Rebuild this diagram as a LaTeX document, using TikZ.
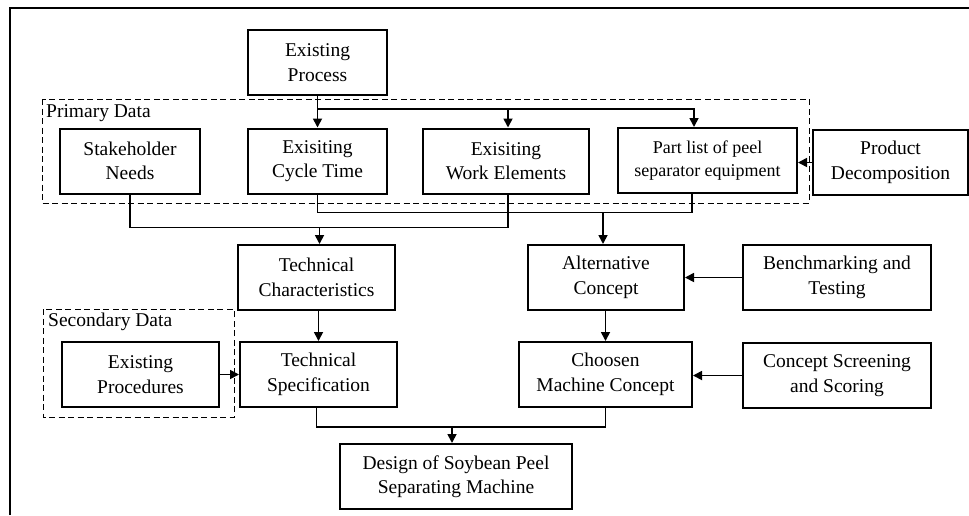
\documentclass[tikz,border=0pt]{standalone}
\usepackage{fontspec}
\setmainfont{Liberation Serif}
\usetikzlibrary{arrows.meta,calc}
\begin{document}
\begin{tikzpicture}[x=1pt,y=-1pt,
  box/.style={draw,line width=2pt,inner sep=0pt,minimum height=65pt,align=center,font=\fontsize{19.5}{24.5}\selectfont},
  conn/.style={line width=1.7pt},
  arr/.style={line width=1.7pt,-{Triangle[length=9pt,width=9pt]}},
  grp/.style={draw,line width=1pt,dash pattern=on 6pt off 3.5pt},
  lbl/.style={anchor=north west,inner sep=0pt,font=\fontsize{19.5}{24.5}\selectfont}]
\useasboundingbox (0,0) rectangle (969,515);
% outer frame (partial)
\draw[line width=1.4pt] (10,515) -- (10,8) -- (969,8);
% groups
\draw[grp] (42,99) rectangle (809,203);
\node[lbl] (pdl) at (46,104) {Primary Data};
\draw[grp] (43,309) rectangle (234,417);
\node[lbl] (sdl) at (48,313) {Secondary Data};
% nodes
\node[box,minimum width=139pt] (ex) at (317.5,62.5) {Existing\\Process};
\node[box,minimum width=140pt] (sn) at (130,161) {Stakeholder\\Needs};
\node[box,minimum width=139pt] (ct) at (317.5,161) {Exisiting\\Cycle Time};
\node[box,minimum width=166pt] (we) at (506,161) {Exisiting\\Work Elements};
\node[box,minimum width=179pt,font=\fontsize{18}{23}\selectfont] (pl) at (707.5,160.5) {Part list of peel\\separator equipment};
\node[box,minimum width=155pt] (pd) at (890.5,162.5) {Product\\Decomposition};
\node[box,minimum width=157pt] (tc) at (316.5,277.5) {Technical\\Characteristics};
\node[box,minimum width=157pt] (ts) at (318.5,374.5) {Technical\\Specification};
\node[box,minimum width=157pt] (ep) at (140.5,374.5) {Existing\\Procedures};
\node[box,minimum width=156pt] (ac) at (606,277.5) {Alternative\\Concept};
\node[box,minimum width=173pt] (cm) at (605.5,374.5) {Choosen\\Machine Concept};
\node[box,minimum width=188pt] (bt) at (837,277.5) {Benchmarking and\\Testing};
\node[box,minimum width=188pt] (cs) at (837,375.5) {Concept Screening\\and Scoring};
\node[box,minimum width=232pt] (ds) at (456,476.5) {Design of Soybean Peel\\Separating Machine};
% connectors from existing process
\coordinate (j1) at ($(ex.south)+(0,13)$);
\draw[arr] (ex.south) -- (ct.north);
\draw[arr] (j1) -| ([xshift=2pt]we.north);
\draw[arr] (j1) -| ([xshift=-13.5pt]pl.north);
\draw[arr] (pd.west) -- (pd.west -| pl.east);
% lower merges
\coordinate (j2) at ($(sn.south)+(0,33)$);
\draw[conn] (sn.south) -- (j2) -| ([xshift=2pt]we.south);
\draw[arr] ($(j2 -| tc.north)+(3,0)$) -- ([xshift=3pt]tc.north);
\coordinate (j3) at ($(ct.south)+(0,18)$);
\draw[conn] (ct.south) -- (j3) -| ([xshift=-15.5pt]pl.south);
\draw[arr] ($(j3 -| ac.north)+(-3,0)$) -- ([xshift=-3pt]ac.north);
% middle
\draw[arr] ([xshift=2pt]tc.south) -- (ts.north);
\draw[arr] (ep.east) -- (ep.east -| ts.west);
\draw[arr] (bt.west) -- (bt.west -| ac.east);
\draw[arr] (cs.west) -- (cs.west -| cm.east);
\draw[arr] ([xshift=-0.5pt]ac.south) -- (cm.north);
% to design
\coordinate (j4) at ($(ts.south)+(-2,19)$);
\draw[conn] ([xshift=-2pt]ts.south) -- (j4) -| (cm.south);
\draw[arr] ($(j4 -| ds.north)+(-4,0)$) -- ([xshift=-4pt]ds.north);
\end{tikzpicture}
\end{document}
